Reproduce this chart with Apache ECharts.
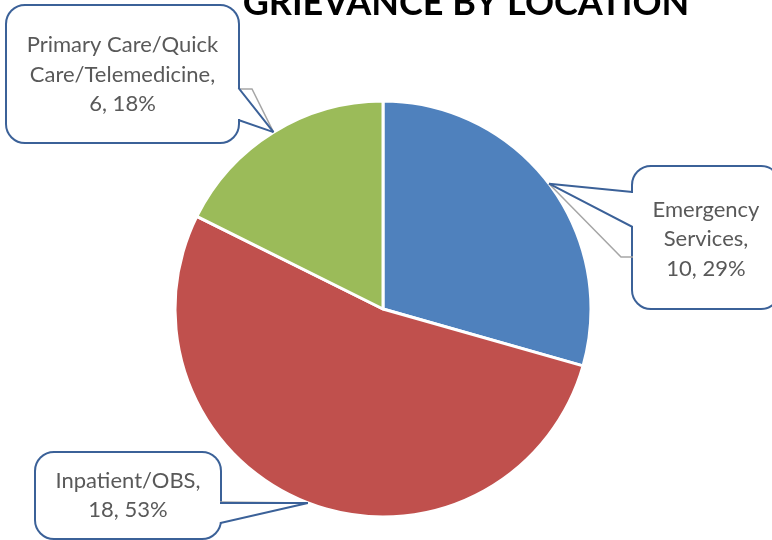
<!DOCTYPE html>
<html>
<head>
<meta charset="utf-8">
<title>Grievance by Location</title>
<script src="https://cdn.jsdelivr.net/npm/echarts@6/dist/echarts.min.js"></script>
<style>
  html, body { margin: 0; padding: 0; background: #ffffff; }
  #chart { width: 772px; height: 540px; }
</style>
</head>
<body>
<div id="chart"></div>
<script>
// Grievance counts per location
const categoryLines = [
  ['Emergency', 'Services'],
  ['Inpatient/OBS'],
  ['Primary Care/Quick', 'Care/Telemedicine']
];
const categories = categoryLines.map(l => l.join(' '));
const counts = [10, 18, 6];
const sliceColors = ['#4F81BD', '#C0504D', '#9BBB59'];
const titleText = 'GRIEVANCE BY LOCATION';

// Callout boxes: [left, top, width, height], top padding of the text,
// the two points where the tail meets the box, and the end of the grey leader.
const callouts = [
  { box: [633, 167, 146, 141], padTop: 28, tail: [[633, 192], [633, 227]], guide: [633, 257], guideLen: 12, side: 'left' },
  { box: [36, 453, 184, 85], padTop: 13, tail: [[220, 503], [220, 523]], guide: [220, 502], guideLen: 2, side: 'right' },
  { box: [7, 6, 231, 136], padTop: 24.5, tail: [[238, 88], [238, 120]], guide: [240, 89], guideLen: 12, side: 'right' }
];

const FONT = 'Lato, "Open Sans", sans-serif';
const LINE_H = 29.5;
const CENTER = [383, 309];
const RADIUS = 208;

const chart = echarts.init(document.getElementById('chart'), null, { renderer: 'canvas' });

function labelText(p) {
  const lines = categoryLines[p.dataIndex].slice();
  lines[lines.length - 1] += ',';
  lines.push(p.value + ', ' + Math.round(p.percent) + '%');
  return lines.join('\n');
}

// Shared pie geometry for every layer
function pieBase(extra) {
  return Object.assign({
    type: 'pie',
    center: CENTER,
    radius: RADIUS,
    startAngle: 90,
    clockwise: true,
    animation: false,
    emphasis: { disabled: true },
    tooltip: { show: false }
  }, extra);
}

// Invisible pie whose small empty labels only serve as end points for label lines
function anchorLayer(z, pointOf, lineStyle, lenOf) {
  return pieBase({
    z: z,
    silent: true,
    itemStyle: { color: 'rgba(0,0,0,0)', borderWidth: 0 },
    data: categories.map((name, i) => ({
      name: name,
      value: counts[i],
      labelLine: { length2: lenOf(i) }
    })),
    label: {
      show: true,
      position: 'outside',
      formatter: ' ',
      color: 'rgba(0,0,0,0)',
      fontSize: 1,
      width: 24,
      height: 2,
      padding: 0,
      backgroundColor: 'rgba(255,255,255,0)'
    },
    labelLine: {
      show: true,
      length: 10,
      minTurnAngle: 0,
      smooth: false,
      lineStyle: lineStyle
    },
    labelLayout: function (p) {
      const c = callouts[p.dataIndex];
      const pt = pointOf(c);
      return {
        x: c.side === 'left' ? pt[0] + 12 : pt[0] - 12,
        y: pt[1],
        align: 'center',
        verticalAlign: 'middle'
      };
    }
  });
}

const option = {
  backgroundColor: '#ffffff',
  title: {
    text: titleText,
    left: 461,
    top: -20,
    textAlign: 'center',
    textStyle: { fontFamily: FONT, fontWeight: 'bold', fontSize: 36, color: '#000000' }
  },
  series: [
    // Slices and callout boxes
    pieBase({
      z: 2,
      data: categories.map((name, i) => {
        const c = callouts[i];
        const nLines = categoryLines[i].length + 1;
        return {
          name: name,
          value: counts[i],
          itemStyle: { color: sliceColors[i] },
          label: {
            width: c.box[2],
            padding: [c.padTop, 0, c.box[3] - c.padTop - nLines * LINE_H, 0]
          }
        };
      }),
      itemStyle: { borderColor: '#ffffff', borderWidth: 3 },
      label: {
        show: true,
        position: 'outside',
        formatter: labelText,
        fontFamily: FONT,
        fontSize: 22,
        lineHeight: LINE_H,
        color: '#595959',
        align: 'center',
        backgroundColor: '#ffffff',
        borderColor: '#3B6198',
        borderWidth: 2,
        borderRadius: 18
      },
      labelLine: { show: false },
      labelLayout: function (p) {
        const b = callouts[p.dataIndex].box;
        return { x: b[0] + b[2] / 2, y: b[1], align: 'center', verticalAlign: 'top' };
      }
    }),
    // Grey leader lines
    anchorLayer(3, c => c.guide, { color: '#A6A6A6', width: 1.5 }, i => callouts[i].guideLen),
    // White strip that opens the box border where the tail joins it
    pieBase({
      z: 4,
      silent: true,
      itemStyle: { color: 'rgba(0,0,0,0)', borderWidth: 0 },
      data: categories.map((name, i) => {
        const t = callouts[i].tail;
        return {
          name: name,
          value: counts[i],
          label: { height: Math.abs(t[1][1] - t[0][1]) - 2 }
        };
      }),
      label: {
        show: true,
        position: 'outside',
        formatter: ' ',
        color: 'rgba(0,0,0,0)',
        fontSize: 1,
        width: 5,
        padding: 0,
        backgroundColor: '#ffffff'
      },
      labelLine: { show: false },
      labelLayout: function (p) {
        const t = callouts[p.dataIndex].tail;
        return {
          x: t[0][0],
          y: (t[0][1] + t[1][1]) / 2,
          align: 'center',
          verticalAlign: 'middle'
        };
      }
    }),
    // The two edges of each callout tail
    anchorLayer(5, c => c.tail[0], { color: '#3B6198', width: 2 }, () => 0.5),
    anchorLayer(5, c => c.tail[1], { color: '#3B6198', width: 2 }, () => 0.5)
  ]
};

chart.setOption(option);
</script>
</body>
</html>
